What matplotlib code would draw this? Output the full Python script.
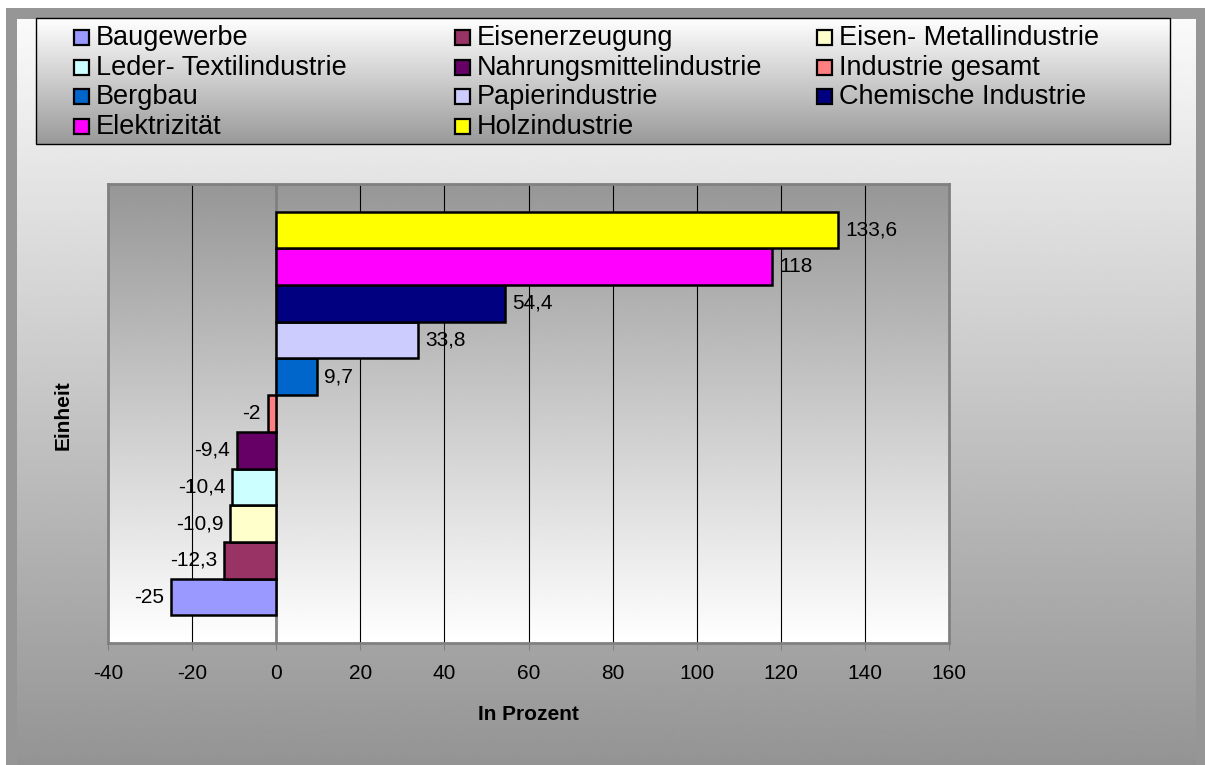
import numpy as np
import matplotlib
matplotlib.use("Agg")
import matplotlib.pyplot as plt
from matplotlib.patches import Rectangle

plt.rcParams['font.family'] = ['Liberation Sans', 'DejaVu Sans']
plt.rcParams['axes.unicode_minus'] = False

# data, bottom to top
branchen = ["Baugewerbe", "Eisenerzeugung", "Eisen- Metallindustrie",
            "Leder- Textilindustrie", "Nahrungsmittelindustrie", "Industrie gesamt",
            "Bergbau", "Papierindustrie", "Chemische Industrie",
            "Elektrizität", "Holzindustrie"]
werte = [-25, -12.3, -10.9, -10.4, -9.4, -2, 9.7, 33.8, 54.4, 118, 133.6]
farben = ["#9999FF", "#993366", "#FFFFCC", "#CCFFFF", "#660066", "#FF8080",
          "#0066CC", "#CCCCFF", "#000080", "#FF00FF", "#FFFF00"]
x_ticks = [-40, -20, 0, 20, 40, 60, 80, 100, 120, 140, 160]

W, H = 1205, 765
fig = plt.figure(figsize=(W / 100, H / 100), dpi=100)
fig.patch.set_facecolor("white")

# background: frame + vertical gradient
bg = fig.add_axes([0, 0, 1, 1])
bg.set_xlim(0, W)
bg.set_ylim(H, 0)
bg.axis("off")
bg.add_patch(Rectangle((6, 8), W - 6, H - 8, facecolor="#969696", edgecolor="none", zorder=0))
grad = np.linspace(0.98, 0.58, 256).reshape(-1, 1)
bg.imshow(grad, cmap="gray", vmin=0, vmax=1, extent=(17, 1196, H, 19),
          aspect="auto", zorder=1, interpolation="bilinear")

# legend box
lg = np.linspace(1.0, 0.6, 256).reshape(-1, 1)
bg.imshow(lg, cmap="gray", vmin=0, vmax=1, extent=(36, 1170, 144, 18),
          aspect="auto", zorder=2, interpolation="bilinear")
bg.add_patch(Rectangle((36, 18), 1134, 126, facecolor="none", edgecolor="black",
                       linewidth=1, zorder=3))
col_x = [74, 455, 817]
row_y = [37, 67, 96, 126]
for i, (name, c) in enumerate(zip(branchen, farben)):
    r, k = divmod(i, 3)
    bg.add_patch(Rectangle((col_x[k], row_y[r] - 7.5), 15, 15, facecolor=c,
                           edgecolor="black", linewidth=1.6, zorder=4))
    bg.text(col_x[k] + 22, row_y[r] + 1, name, fontsize=19.5, va="center", ha="left", zorder=4)

# plot area
ax = fig.add_axes([108 / W, 1 - 643 / H, (949 - 108) / W, (643 - 184) / H])
ax.set_xlim(-40, 160)
pg = np.linspace(0.59, 1.0, 256).reshape(-1, 1)
ax.imshow(pg, cmap="gray", vmin=0, vmax=1, extent=(-40, 160, -1.25, len(werte) + 0.25),
          aspect="auto", zorder=0, interpolation="bilinear", origin="upper")
ax.set_ylim(-1.25, len(werte) - 1 + 1.25)

ax.set_xticks(x_ticks)
ax.tick_params(axis="x", direction="out", length=5, color="#808080", labelsize=15, pad=10)
ax.tick_params(axis="y", left=False, labelleft=False)
for x in x_ticks[1:-1]:
    if x == 0:
        continue
    ax.axvline(x, color="black", linewidth=0.8, zorder=1)
ax.axvline(0, color="#808080", linewidth=2, zorder=1)
for s in ax.spines.values():
    s.set_color("#808080")
    s.set_linewidth(2)

y = np.arange(len(werte))
bars = ax.barh(y, werte, height=1.0, color=farben, edgecolor="black", linewidth=1.8, zorder=3)
labels = [("%g" % v).replace(".", ",") for v in werte]
ax.bar_label(bars, labels=labels, padding=5, fontsize=15, zorder=4)

ax.set_xlabel("In Prozent", fontsize=15, fontweight="bold", labelpad=16)
fig.text(63 / W, 1 - 415 / H, "Einheit", rotation=90, fontsize=15, fontweight="bold",
         ha="center", va="center")

fig.savefig("out.png", dpi=100)
